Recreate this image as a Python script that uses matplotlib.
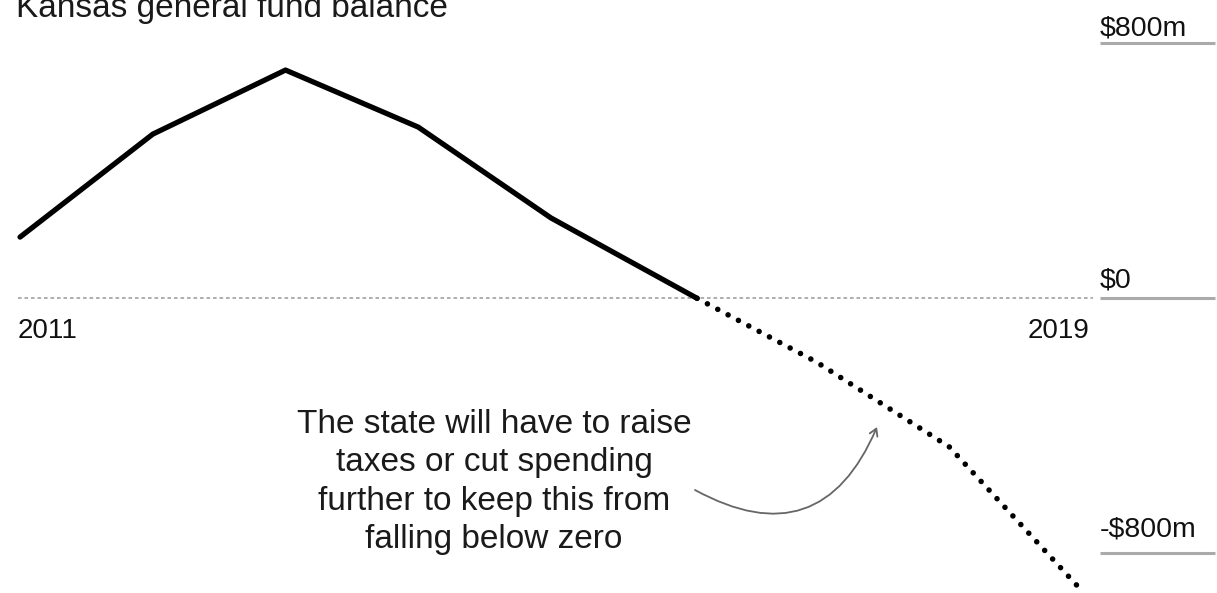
import matplotlib
matplotlib.use("Agg")
import matplotlib.pyplot as plt

# Data
actual_years = [2011, 2012, 2013, 2014, 2015, 2016.1]
actual_balance = [192, 515, 716, 537, 252, 0]
projected_years = [2016.1, 2017, 2018, 2019]
projected_balance = [0, -200, -466, -918]
y_ticks = [800, 0, -800]
y_tick_labels = ["$800m", "$0", "-$800m"]
x_labels = ["2011", "2019"]

plt.rcParams['font.family'] = ['Liberation Sans', 'DejaVu Sans']

W, H = 1217, 593
fig = plt.figure(figsize=(W / 100, H / 100), dpi=100)
ax = fig.add_axes([0, 0, 1, 1])
XL, XR = 2010.849, 2020.017
YB, YT = -924.5, 935.8
ax.set_xlim(XL, XR)
ax.set_ylim(YB, YT)
ax.axis('off')

px_x = (XR - XL) / W   # data units per pixel in x
px_y = (YT - YB) / H   # data units per pixel in y


def P(x, y):
    """pixel position -> data coords (for layout only)"""
    return XL + x * px_x, YT - y * px_y


# zero reference dotted line
ax.plot([2011 - 2 * px_x, 2019 + 11 * px_x], [0, 0], color='#a8a8a8', lw=1.3,
        linestyle=(0, (2, 1.6)), zorder=1)

# actual line
ax.plot(actual_years, actual_balance, color='black', lw=3.8,
        solid_joinstyle='round', solid_capstyle='round', zorder=3)
# projected dotted line
ax.plot(projected_years, projected_balance, color='black', lw=4.0,
        linestyle=(0, (0.01, 2.1)), dash_capstyle='round', zorder=3)

# right-side tick labels with gray lines
x_lab = 2019 + 18 * px_x
label_gaps = [8, 11, 17]
for v, lab, g in zip(y_ticks, y_tick_labels, label_gaps):
    ax.plot([x_lab, XR - 2 * px_x], [v, v], color='#aaaaaa', lw=2.2,
            solid_capstyle='butt', zorder=2)
    ax.text(x_lab, v + g * px_y, lab, ha='left', va='baseline',
            fontsize=20.5, color='#111111')

# x labels
ax.text(2011 - 2 * px_x, -40 * px_y, x_labels[0], ha='left', va='baseline',
        fontsize=20, color='#111111')
ax.text(2019 + 8 * px_x, -40 * px_y, x_labels[1], ha='right', va='baseline',
        fontsize=20, color='#111111')

# title (cut off at the top, as in the original)
ax.text(*P(16, 17), "Kansas general fund balance",
        ha='left', va='baseline', fontsize=24, color='#1a1a1a')

# annotation text
ax.text(*P(494, 482),
        "The state will have to raise\ntaxes or cut spending\nfurther to keep this from\nfalling below zero",
        ha='center', va='center', fontsize=24, color='#1a1a1a', linespacing=1.3)

# curved arrow
ax.annotate("", xy=P(877, 427), xytext=P(695, 490),
            arrowprops=dict(arrowstyle='->,head_length=0.5,head_width=0.3',
                            color='#666666', lw=1.3,
                            connectionstyle='arc3,rad=0.55',
                            shrinkA=0, shrinkB=0))

fig.savefig('out.png', dpi=100)
